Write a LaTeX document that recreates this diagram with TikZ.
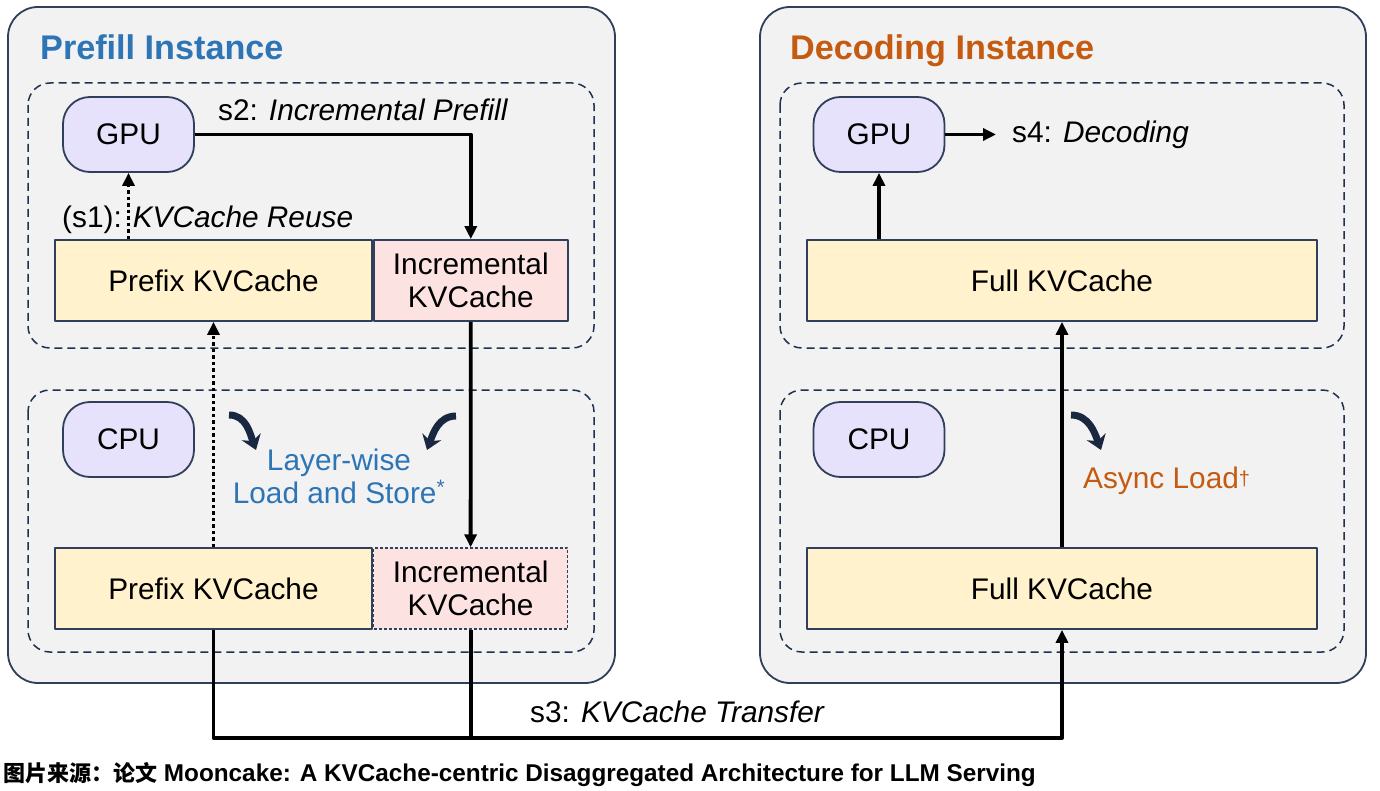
\documentclass[tikz,border=0pt]{standalone}
\usepackage{fontspec}
\setmainfont{Liberation Sans}
\newfontfamily\cjk{Noto Sans CJK SC}
\usepackage{xcolor}
\usetikzlibrary{arrows.meta}
\usetikzlibrary{positioning,calc}

\definecolor{panel}{HTML}{F2F2F2}
\definecolor{slate}{HTML}{2F3F5C}
\definecolor{navy}{HTML}{1F3050}
\definecolor{lavender}{HTML}{E7E2FB}
\definecolor{cachey}{HTML}{FFF2CC}
\definecolor{cachep}{HTML}{FDE2E2}
\definecolor{prefillblue}{HTML}{2E75B6}
\definecolor{decodeorange}{HTML}{C55A11}
\definecolor{swirlc}{HTML}{1A2740}

\newcommand\kvsize{\fontsize{29.8}{33}\selectfont}
\newcommand\kvtitle{\fontsize{34.2}{38}\selectfont\bfseries}
\newcommand\kvnote{\fontsize{24.3}{27}\selectfont\bfseries}

\begin{document}
\begin{tikzpicture}[x=1pt,y=-1pt,line join=round]
\tikzset{
instance/.style = {draw=slate,fill=panel,line width=1.8pt,rounded corners=30pt},
device/.style = {draw=navy,line width=1.5pt,dash pattern=on 8pt off 5pt,rounded corners=22pt},
unit/.style = {draw=slate,fill=lavender,line width=1.8pt,rounded corners=27pt,minimum width=131pt,minimum height=75pt,inner sep=0pt,font=\kvsize},
cache/.style = {draw=slate,fill=cachey,line width=1.8pt,minimum height=81pt,inner sep=0pt,font=\kvsize,align=center},
incr/.style = {cache,fill=cachep,minimum width=194pt},
flow/.style = {line width=3.8pt,-{Triangle[length=13pt,width=12pt]}},
reuse/.style = {flow,dash pattern=on 3.5pt off 3pt},
bus/.style = {line width=3.8pt},
swirl/.style = {draw=swirlc,line width=7pt,-{Stealth[length=14pt,width=20pt]}},
steplbl/.style = {anchor=base west,inner sep=0pt,font=\kvsize},
}
\useasboundingbox (0,0) rectangle (1380,791);
% Instances.
\draw[instance] (8,7) rectangle (615,683);
\draw[instance] (760,7) rectangle (1366,683);
\node[anchor=base west,inner sep=0pt,font=\kvtitle,text=prefillblue] (titleP) at (40,60) {Prefill Instance};
\node[anchor=base west,inner sep=0pt,font=\kvtitle,text=decodeorange] (titleD) at (790,60) {Decoding Instance};
\draw[device] (28,83) rectangle (594,348);
\draw[device] (28,390) rectangle (594,652);
\draw[device] (780,83) rectangle (1344,348);
\draw[device] (780,390) rectangle (1344,652);

% Prefill side.
\node[unit] (gpuP) at (128.5,134.5) {GPU};
\node[unit] (cpuP) at (128.5,439.5) {CPU};
\node[cache,minimum width=317pt] (preGP) at (213.5,280.5) {Prefix KVCache};
\node[incr,right=0pt of preGP] (incGP) {Incremental\\KVCache};
\node[cache,minimum width=317pt] (preCP) at (213.5,588.5) {Prefix KVCache};
\node[incr,right=0pt of preCP,dash pattern=on 3pt off 2pt,line width=1.4pt] (incCP) {Incremental\\KVCache};

% Decoding side.
\node[unit] (gpuD) at (879,134.5) {GPU};
\node[unit] (cpuD) at (879,439.5) {CPU};
\node[cache,minimum width=510pt] (fullGD) at (1062,280.5) {Full KVCache};
\node[cache,minimum width=510pt] (fullCD) at (1062,588.5) {Full KVCache};

% Labels.
\node[steplbl] (s2lbl) at (218,121) {s2: \textit{Incremental Prefill}};
\node[steplbl] (s1lbl) at (62,228) {(s1): \textit{KVCache Reuse}};
\node[steplbl] (s3lbl) at (530,722) {s3: \textit{KVCache Transfer}};
\node[steplbl] (s4lbl) at (1012,143) {s4: \textit{Decoding}};
\node[font=\kvsize,text=prefillblue,align=center,inner sep=0pt] (lwlbl) at (339,476) {Layer-wise\\Load and Store\textsuperscript{*}};
\node[steplbl,text=decodeorange] (aslbl) at (1083,488) {Async Load\raisebox{3pt}{\fontsize{20}{20}\selectfont †}};

% Connectors.
\draw[flow] (gpuP.east) -| (incGP.north);
\draw[reuse] (preGP.north -| gpuP) -- (gpuP.south);
\draw[reuse] (preCP.north) -- (preGP.south);
\draw[flow] (incGP.south) -- (incCP.north);
\coordinate (busL) at (213.5,738);
\draw[flow] (preCP.south) -- (busL) -| (fullCD.south);
\draw[bus] (incCP.south) -- (incCP.south |- busL);
\draw[flow] (fullCD.north) -- (fullGD.south);
\draw[flow] (fullGD.north -| gpuD) -- (gpuD.south);
\draw[flow,shorten >=16pt] (gpuD.east) -- (gpuD.east -| s4lbl.west);

% Layer-wise and async arrows.
\draw[swirl] (229,415) to[out=0,in=110] (256,450);
\draw[swirl] (456,416) to[out=180,in=70] (427,450);
\draw[swirl] (1071,415) to[out=0,in=110] (1101,450);

% Source line.
\node[anchor=west,inner sep=0pt,font=\kvnote] (src) at (3,775) {{\cjk\bfseries\fontsize{22}{27}\selectfont 图片来源：论文} Mooncake: A KVCache-centric Disaggregated Architecture for LLM Serving};
\end{tikzpicture}
\end{document}
